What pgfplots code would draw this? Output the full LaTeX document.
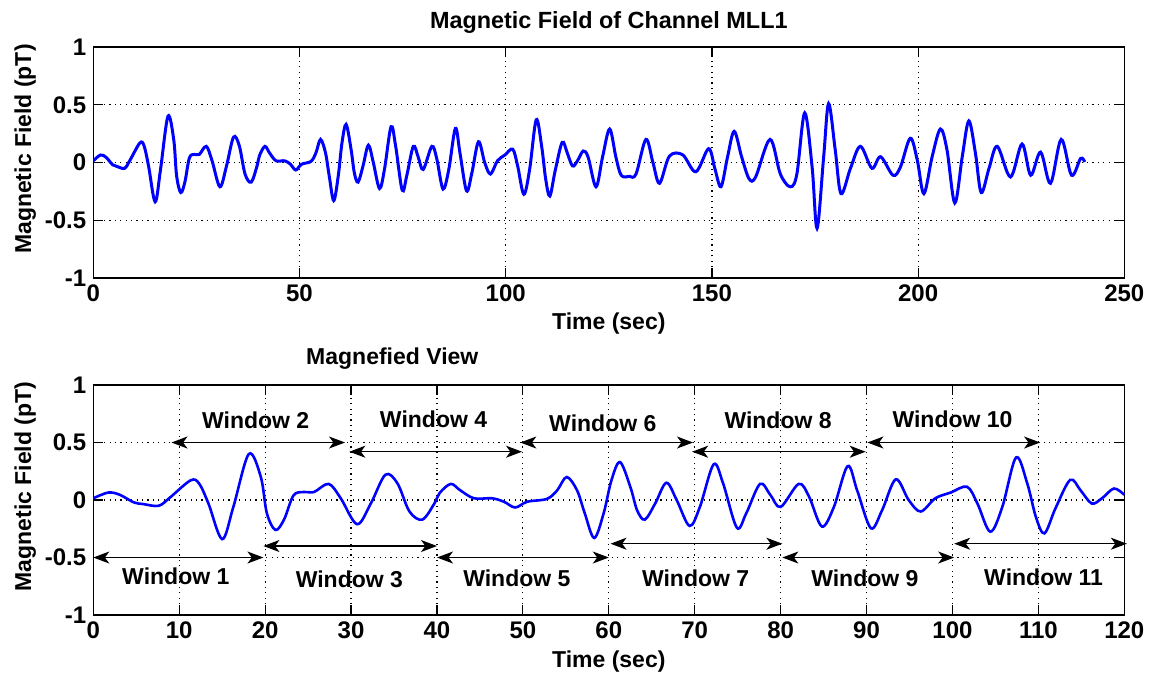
\documentclass[border=0pt]{standalone}
\usepackage{pgfplots}
\pgfplotsset{compat=1.18}
\usepackage{pgfplotstable}
\usepackage{fontspec}
\setmainfont{Liberation Sans}
\usetikzlibrary{arrows.meta}

\pgfplotstableread{
x y
0 0.015
1.75 0.065
3.1 0.045
4.7 -0.02
5.8 -0.035
7.6 -0.05
8.9 0.02
11.3 0.17
12.3 0.145
13.4 -0.03
15.0 -0.34
16.3 -0.06
18.1 0.40
19.5 0.2
20.2 -0.115
21.2 -0.26
22.2 -0.17
23.3 0.04
24.5 0.07
25.7 0.07
27.4 0.14
28.8 0.015
30.7 -0.21
32.3 -0.03
34.0 0.22
35.4 0.145
36.8 -0.1
38.3 -0.17
39.7 -0.03
40.3 0.06
41.6 0.14
42.7 0.085
44.3 0.015
46.4 0.015
47.8 -0.015
49.1 -0.065
50.5 -0.015
52.8 0.01
54.0 0.085
55.1 0.2
56.3 0.085
57.2 -0.115
58.3 -0.33
59.4 -0.115
60.3 0.17
61.3 0.33
62.5 0.115
63.3 -0.09
64.2 -0.17
65.4 -0.03
66.7 0.15
67.9 0
69.4 -0.225
70.6 -0.06
72.2 0.31
73.3 0.145
74.9 -0.24
76.0 -0.115
77.6 0.14
78.8 0.045
80.0 -0.06
82.1 0.14
83.3 0.03
84.8 -0.23
86.2 -0.06
87.8 0.295
88.9 0.085
90.5 -0.245
91.8 -0.09
93.4 0.18
94.9 0
96.3 -0.1
98.0 0.015
99.8 0.065
101.7 0.115
102.9 -0.03
104.4 -0.275
105.8 -0.06
107.4 0.37
108.7 0.145
109.7 -0.145
110.7 -0.29
112.0 -0.07
113.7 0.175
114.9 0.085
116.2 -0.03
117.4 0.015
118.8 0.1
120 0.045
}\zoomdata

\pgfplotstableread{
x y
0 0.015
1.75 0.065
3.1 0.045
4.7 -0.02
5.8 -0.035
7.6 -0.05
8.9 0.02
11.3 0.17
12.3 0.145
13.4 -0.03
15.0 -0.34
16.3 -0.06
18.1 0.40
19.5 0.2
20.2 -0.115
21.2 -0.26
22.2 -0.17
23.3 0.04
24.5 0.07
25.7 0.07
27.4 0.14
28.8 0.015
30.7 -0.21
32.3 -0.03
34.0 0.22
35.4 0.145
36.8 -0.1
38.3 -0.17
39.7 -0.03
40.3 0.06
41.6 0.14
42.7 0.085
44.3 0.015
46.4 0.015
47.8 -0.015
49.1 -0.065
50.5 -0.015
52.8 0.01
54.0 0.085
55.1 0.2
56.3 0.085
57.2 -0.115
58.3 -0.33
59.4 -0.115
60.3 0.17
61.3 0.33
62.5 0.115
63.3 -0.09
64.2 -0.17
65.4 -0.03
66.7 0.15
67.9 0
69.4 -0.225
70.6 -0.06
72.2 0.31
73.3 0.145
74.9 -0.24
76.0 -0.115
77.6 0.14
78.8 0.045
80.0 -0.06
82.1 0.14
83.3 0.03
84.8 -0.23
86.2 -0.06
87.8 0.295
88.9 0.085
90.5 -0.245
91.8 -0.09
93.4 0.18
94.9 0
96.3 -0.1
98.0 0.015
99.8 0.065
101.7 0.115
102.9 -0.03
104.4 -0.275
105.8 -0.06
107.4 0.37
108.7 0.145
109.7 -0.145
110.7 -0.29
112.0 -0.07
113.7 0.175
114.9 0.085
116.2 -0.03
117.4 0.015
118.8 0.1
120 0.045
121.9 -0.21
123.5 0.05
125.2 0.29
126.7 0.05
128.0 -0.11
130.0 -0.12
131.6 -0.1
134.0 0.2
135.7 0.0
137.3 -0.18
139.7 0.055
142.9 0.067
146.1 -0.08
149.2 0.12
150.7 -0.05
152.2 -0.21
153.8 0.05
155.4 0.27
157.2 0.05
159.0 -0.14
160.6 -0.125
164.1 0.2
166.6 -0.1
169.0 -0.21
170.6 -0.1
172.5 0.43
174.3 -0.04
175.5 -0.57
177.1 0.05
178.3 0.51
179.9 0.11
181.3 -0.27
183.6 -0.05
186.0 0.14
188.8 -0.05
190.9 0.05
193.9 -0.11
195.7 -0.04
198.1 0.21
199.8 0.02
201.4 -0.27
203.4 0.05
205.4 0.29
207.0 0.11
208.9 -0.35
210.7 0.05
212.3 0.36
213.9 0.08
215.3 -0.26
217.2 -0.05
219.2 0.14
222.4 -0.125
225.2 0.16
227.3 -0.11
229.7 0.09
232.1 -0.18
234.7 0.2
237.2 -0.11
239.4 0.035
240.4 0.005
}\fulldata

\tikzset{
  warr/.style={{Stealth[length=8pt,width=6pt,inset=2.2pt]}-{Stealth[length=8pt,width=6pt,inset=2.2pt]}, line width=0.6pt, black},
}

\pgfplotsset{
  mystyle/.style={
    scale only axis,
    width=515.5pt,
    ymin=-1, ymax=1,
    ytick={-1,-0.5,0,0.5,1},
    axis line style={line width=0.6pt},
    tick style={line width=0.6pt, black},
    major tick length=5pt,
    tick align=inside,
    xtick pos=both, ytick pos=both,
    grid=major,
    major grid style={black, line width=0.6pt, dash pattern=on 0.6pt off 2.1pt},
    /pgf/number format/assume math mode=true,
    ticklabel style={font=\fontsize{12}{14}\selectfont\bfseries},
    label style={font=\fontsize{11.5}{13}\selectfont\bfseries},
    title style={font=\fontsize{11.7}{13}\selectfont\bfseries},
    ylabel={Magnetic Field (pT)},
    xlabel={Time (sec)},
    ylabel style={at={(axis description cs:-0.066,0.558)}, anchor=center},
  },
}

\begin{document}
\begin{tikzpicture}[font=\fontsize{11.5}{13}\selectfont\bfseries]
\path[use as bounding box] (0,0) rectangle (574.5pt,-338.5pt);

\begin{axis}[mystyle,
  at={(46.65pt,-139pt)}, anchor=south west,
  height=115.5pt,
  xmin=0, xmax=250,
  xtick={0,50,100,150,200,250},
  title={Magnetic Field of Channel MLL1},
  title style={at={(axis description cs:0.5,1)}, anchor=base, yshift=3.5pt},
  xlabel style={at={(axis description cs:0.5,-0.195)}, anchor=center},
]
\addplot[blue, line width=1.5pt, smooth, tension=0.55] table[x=x,y=y] {\fulldata};
\end{axis}

\begin{axis}[mystyle,
  at={(46.65pt,-307.5pt)}, anchor=south west,
  height=115pt,
  xmin=0, xmax=120,
  xtick={0,10,...,120},
  clip=false,
  xlabel style={at={(axis description cs:0.5,-0.204)}, anchor=center},
]
\addplot[blue, line width=1.3pt, smooth, tension=0.55] table[x=x,y=y] {\zoomdata};
\node[anchor=base] at (axis description cs:0.29,1.09) {Magnefied View};

\draw[warr] (axis cs:0,-0.5) -- (axis cs:19.8,-0.5);
\draw[warr] (axis cs:9.1,0.5) -- (axis cs:29.3,0.5);
\draw[warr] (axis cs:19.8,-0.4) -- (axis cs:40,-0.4);
\draw[warr] (axis cs:29.8,0.42) -- (axis cs:49.9,0.42);
\draw[warr] (axis cs:40,-0.5) -- (axis cs:60,-0.5);
\draw[warr] (axis cs:49.7,0.5) -- (axis cs:69.8,0.5);
\draw[warr] (axis cs:60.2,-0.38) -- (axis cs:80.2,-0.38);
\draw[warr] (axis cs:69.7,0.42) -- (axis cs:89.9,0.42);
\draw[warr] (axis cs:80.2,-0.5) -- (axis cs:100.2,-0.5);
\draw[warr] (axis cs:90.1,0.5) -- (axis cs:110.2,0.5);
\draw[warr] (axis cs:100.2,-0.38) -- (axis cs:120.3,-0.38);

\node at (axis cs:9.6,-0.665) {Window 1};
\node at (axis cs:18.9,0.69) {Window 2};
\node at (axis cs:29.8,-0.69) {Window 3};
\node at (axis cs:39.6,0.70) {Window 4};
\node at (axis cs:49.3,-0.68) {Window 5};
\node at (axis cs:59.3,0.67) {Window 6};
\node at (axis cs:70.1,-0.68) {Window 7};
\node at (axis cs:79.7,0.69) {Window 8};
\node at (axis cs:89.8,-0.68) {Window 9};
\node at (axis cs:100,0.70) {Window 10};
\node at (axis cs:110.6,-0.67) {Window 11};
\end{axis}
\end{tikzpicture}
\end{document}
